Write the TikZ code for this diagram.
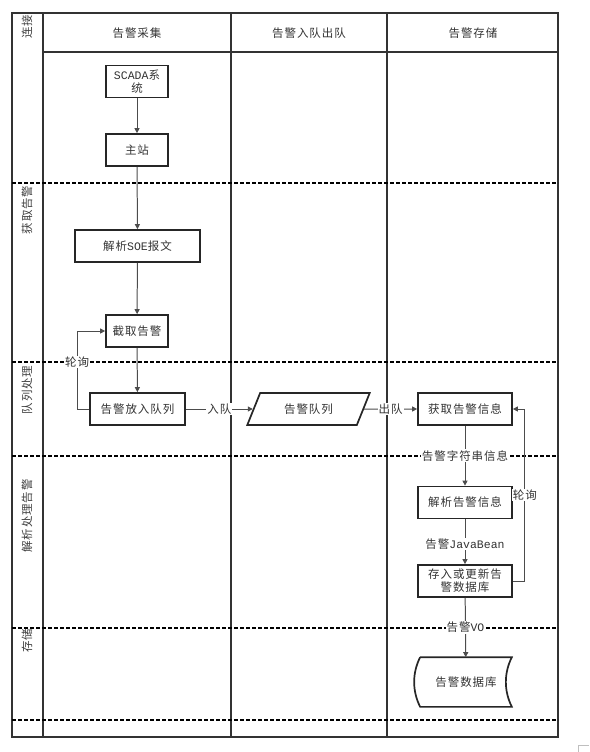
\documentclass[tikz,border=0pt]{standalone}
\usepackage{fontspec}
\newfontfamily\cjk[LetterSpace=8]{Noto Sans CJK SC}
\newfontfamily\lat{Liberation Mono}
\usetikzlibrary{arrows.meta,shapes.geometric}
\tikzset{
  box/.style={draw=black!85, line width=0.6mm, fill=white, minimum width=62, minimum height=32, inner sep=1pt, align=center, font=\cjk\fontsize{11.5}{13}\selectfont, text=black!80},
  wire/.style={draw=black!70, line width=0.35mm, -{Triangle[length=5pt,width=5pt]}},
  lbl/.style={fill=white, inner sep=1pt, font=\cjk\fontsize{11.5}{13}\selectfont, text=black!80},
  head/.style={font=\cjk\fontsize{11.5}{13}\selectfont, text=black!80},
  lanetxt/.style={rotate=90, font=\cjk\fontsize{11.5}{13}\selectfont, text=black!75},
  frame/.style={line width=0.6mm, color=black!80},
  lane/.style={line width=1mm, color=black, dash pattern=on 4pt off 2pt}
}

\begin{document}
\begin{tikzpicture}[x=1pt, y=-1pt]
			%%%%% START %%%%%
			\useasboundingbox (0,0) rectangle (589,752);
			
			\draw[frame] (12,13) rectangle (558,737);
			\draw[frame] (43,13) -- (43,737);
			\draw[frame] (231,13) -- (231,737);
			\draw[frame] (387,13) -- (387,737);
			\draw[frame] (43,52) -- (558,52);
			
			\foreach \y in {183,362,456,628,720}
				\draw[lane] (12,\y) -- (558,\y);
			
			\node[head] (h1) at (137,33) {告警采集};
			\node[head] (h2) at (309,33) {告警入队出队};
			\node[head] (h3) at (473,33) {告警存储};
			
			\node[lanetxt] (l1) at (27,27) {连接};
			\node[lanetxt] (l2) at (27,210) {获取告警};
			\node[lanetxt] (l3) at (27,390) {队列处理};
			\node[lanetxt] (l4) at (27,516) {解析处理告警};
			\node[lanetxt] (l5) at (27,641) {存储};
			
			\node[box] (scada) at (137,81.5) {{\lat SCADA}系\\统};
			\node[box] (zhu) at (137,150) {主站};
			\node[box, minimum width=125] (soe) at (137.5,246) {解析{\lat SOE}报文};
			\node[box] (cut) at (137,331) {截取告警};
			\node[box, minimum width=95] (enq) at (137.5,409) {告警放入队列};
			\node[box, trapezium, trapezium left angle=62, trapezium right angle=118, trapezium stretches=true, minimum width=123] (queue) at (308.5,409) {告警队列};
			\node[box, minimum width=94] (fetch) at (465,409) {获取告警信息};
			\node[box, minimum width=94] (parse) at (465,502.5) {解析告警信息};
			\node[box, minimum width=94] (store) at (465,581) {存入或更新告\\警数据库};
			\node[box, draw=none, fill=none, minimum width=90, minimum height=48] (db) at (466,682) {告警数据库};
			\draw[line width=0.6mm, black!85] (db.north west) -- (db.north east) .. controls ++(-8,16) and ++(-8,-16) .. (db.south east) -- (db.south west) .. controls ++(-8,-16) and ++(-8,16) .. (db.north west);
			
			\draw[wire] (scada) -- (zhu);
			\draw[wire] (zhu) -- (soe);
			\draw[wire] (soe) -- (cut);
			\draw[wire] (cut) -- (enq);
			\draw[wire] (enq.west) -- ++(-12,0) |- node[lbl, pos=0.3] {轮询} (cut.west);
			\draw[wire] (enq) -- node[lbl] {入队} (queue);
			\draw[wire] (queue) -- node[lbl] {出队} (fetch);
			\draw[wire] (fetch) -- node[lbl] {告警字符串信息} (parse);
			\draw[wire] (parse) -- node[lbl, pos=0.55] {告警{\lat JavaBean}} (store);
			\draw[wire] (store.east) -- ++(12,0) |- node[lbl, pos=0.25] {轮询} (fetch.east);
			\draw[wire] (store) -- node[lbl] {告警{\lat VO}} (db);
			
			\draw[black!25, line width=0.2mm] (578,752) -- (578,745) -- (589,745);
			%%%%% END %%%%%
\end{tikzpicture}
\end{document}
